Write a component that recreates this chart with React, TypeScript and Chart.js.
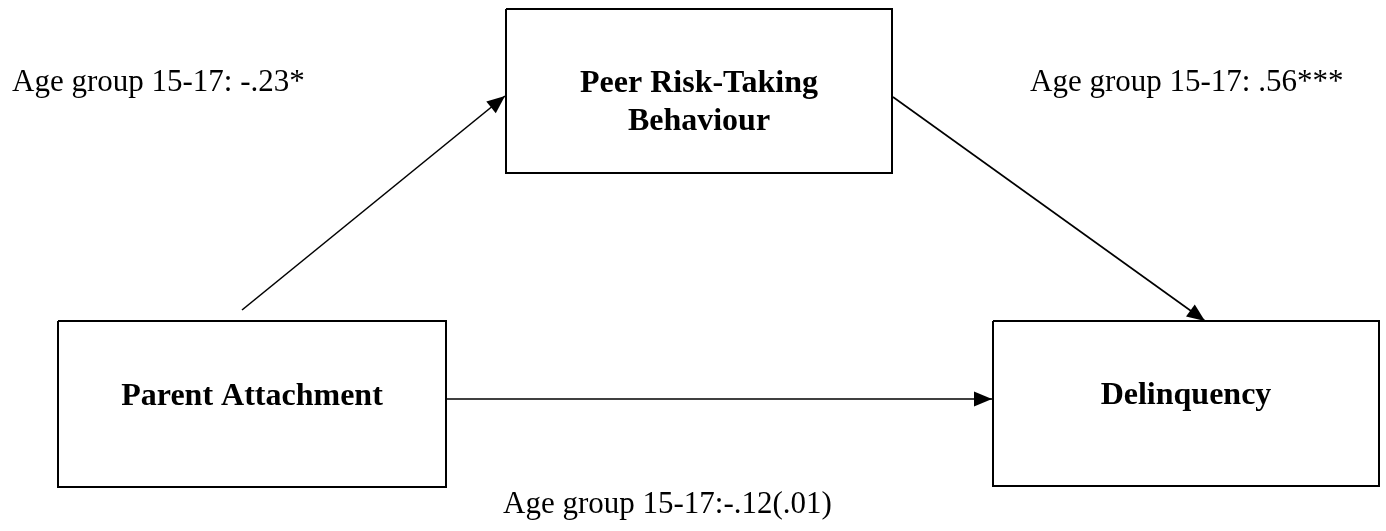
import React, { useEffect, useRef } from "react";
import { Chart, registerables } from "chart.js";

Chart.register(...registerables);

// Diagram nodes (in axis units: x 0..1386, y 0..531 top-down)
const nodeNames = ["Peer Risk-Taking|Behaviour", "Parent Attachment", "Delinquency"];
const nodeLeft = [506, 58, 993];
const nodeRight = [892, 446, 1379];
const nodeTop = [9, 321, 321];
const nodeBottom = [173, 487, 486];
const nodeTextBaseline = [[92, 130], [405], [404]];

// Paths (arrows): start and end points
const pathFromX = [242, 893, 446];
const pathFromY = [310, 97, 399];
const pathToX = [505, 1205, 992];
const pathToY = [96, 321, 399];

// Coefficient labels
const coefLabels = ["Age group 15-17: -.23*", "Age group 15-17: .56***", "Age group 15-17:-.12(.01)"];
const coefX = [12, 1030, 503];
const coefY = [91, 91, 513];

const W = 1386;
const H = 531;

export default function App() {
  const ref = useRef<HTMLCanvasElement | null>(null);

  useEffect(() => {
    document.body.style.margin = "0";
    const canvas = ref.current;
    if (!canvas) return;

    const boxSets = nodeNames.map((n, i) => ({
      label: n,
      data: [
        { x: nodeLeft[i], y: nodeTop[i] },
        { x: nodeRight[i], y: nodeTop[i] },
        { x: nodeRight[i], y: nodeBottom[i] },
        { x: nodeLeft[i], y: nodeBottom[i] },
        { x: nodeLeft[i], y: nodeTop[i] },
      ],
      showLine: true,
      borderColor: "#000",
      borderWidth: 2,
      pointRadius: 0,
      fill: false,
      tension: 0,
    }));
    const arrowSets = pathFromX.map((_, i) => ({
      label: "path" + i,
      data: [
        { x: pathFromX[i], y: pathFromY[i] },
        { x: pathToX[i], y: pathToY[i] },
      ],
      showLine: true,
      borderColor: "#000",
      borderWidth: 1.6,
      pointRadius: 0,
      fill: false,
      tension: 0,
    }));

    const overlay = {
      id: "overlay",
      afterDatasetsDraw(chart: any) {
        const ctx = chart.ctx;
        const xs = chart.scales.x;
        const ys = chart.scales.y;
        ctx.save();
        // arrowheads
        ctx.fillStyle = "#000";
        for (let i = 0; i < pathFromX.length; i++) {
          const x1 = xs.getPixelForValue(pathFromX[i]);
          const y1 = ys.getPixelForValue(pathFromY[i]);
          const x2 = xs.getPixelForValue(pathToX[i]);
          const y2 = ys.getPixelForValue(pathToY[i]);
          const a = Math.atan2(y2 - y1, x2 - x1);
          const len = 18;
          const half = 7.5;
          const bx = x2 - len * Math.cos(a);
          const by = y2 - len * Math.sin(a);
          ctx.beginPath();
          ctx.moveTo(x2, y2);
          ctx.lineTo(bx + half * Math.sin(a), by - half * Math.cos(a));
          ctx.lineTo(bx - half * Math.sin(a), by + half * Math.cos(a));
          ctx.closePath();
          ctx.fill();
        }
        // node texts
        ctx.font = "bold 32px 'Liberation Serif', 'Times New Roman', serif";
        ctx.textAlign = "center";
        ctx.textBaseline = "alphabetic";
        nodeNames.forEach((n, i) => {
          const cx = xs.getPixelForValue((nodeLeft[i] + nodeRight[i]) / 2);
          n.split("|").forEach((line, j) => {
            ctx.fillText(line, cx, ys.getPixelForValue(nodeTextBaseline[i][j]));
          });
        });
        // coefficient labels
        ctx.font = "31px 'Liberation Serif', 'Times New Roman', serif";
        ctx.textAlign = "left";
        coefLabels.forEach((t, i) => {
          ctx.fillText(t, xs.getPixelForValue(coefX[i]), ys.getPixelForValue(coefY[i]));
        });
        ctx.restore();
      },
    };

    const chart = new Chart(canvas, {
      type: "scatter",
      data: { datasets: [...boxSets, ...arrowSets] as any },
      options: {
        animation: false,
        responsive: false,
        maintainAspectRatio: false,
        layout: { padding: 0 },
        plugins: { legend: { display: false }, tooltip: { enabled: false } },
        scales: {
          x: { type: "linear", min: 0, max: W, display: false },
          y: { type: "linear", min: 0, max: H, reverse: true, display: false },
        },
        events: [],
      },
      plugins: [overlay],
    });
    return () => chart.destroy();
  }, []);

  return (
    <div style={{ width: W, height: H, background: "#fff" }}>
      <canvas ref={ref} width={W} height={H} style={{ display: "block" }} />
    </div>
  );
}
